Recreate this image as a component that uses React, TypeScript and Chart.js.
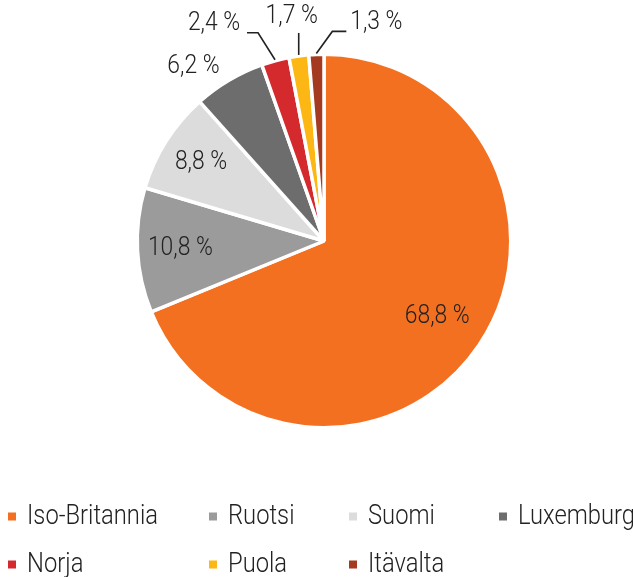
import React, { useEffect, useRef } from "react";
import { Chart, registerables } from "chart.js";

Chart.register(...registerables);

const categories = ["Iso-Britannia", "Ruotsi", "Suomi", "Luxemburg", "Norja", "Puola", "Itävalta"];
const shares = [68.8, 10.8, 8.8, 6.2, 2.4, 1.7, 1.3];
const colors = ["#F37021", "#9B9B9B", "#DCDCDC", "#6D6D6D", "#D42A2E", "#FDB714", "#A43A20"];

const FONT = "Roboto, 'Noto Sans', sans-serif";
const TEXT = "#222222";
const SQUEEZE = 0.88;

const fmt = (v: number) => v.toFixed(1).replace(".", ",") + " %";

// label placement styles (per slice index)
const insideFactor: Record<number, number> = { 0: 0.73, 1: 0.77, 2: 0.78 };
const outsideStyle: Record<number, { label: [number, number]; path: [number, number][] }> = {
  3: { label: [-35, -13], path: [] },
  4: { label: [-61, -36], path: [[-17, -27], [-28, -27]] },
  5: { label: [-7, -38], path: [[0, -22]] },
  6: { label: [60, -31], path: [[16, -22], [30, -22]] },
};

const legendCols = [8, 209, 349, 499];
const legendRows = [524, 572];

function narrowText(ctx: CanvasRenderingContext2D, text: string, x: number, y: number) {
  ctx.save();
  ctx.translate(x, y);
  ctx.scale(SQUEEZE, 1);
  ctx.fillText(text, 0, 0);
  ctx.restore();
}

const labelPlugin = {
  id: "sliceLabels",
  afterDatasetsDraw(chart: any) {
    const ctx = chart.ctx;
    const meta = chart.getDatasetMeta(0);
    ctx.save();
    ctx.font = `300 26px ${FONT}`;
    ctx.fillStyle = TEXT;
    ctx.strokeStyle = TEXT;
    ctx.lineWidth = 1.6;
    ctx.textAlign = "center";
    ctx.textBaseline = "middle";
    meta.data.forEach((arc: any, i: number) => {
      const { x, y, startAngle, endAngle, outerRadius } = arc.getProps(
        ["x", "y", "startAngle", "endAngle", "outerRadius"],
        true
      );
      const mid = (startAngle + endAngle) / 2;
      const c = Math.cos(mid);
      const s = Math.sin(mid);
      const text = fmt(shares[i]);
      if (insideFactor[i] !== undefined) {
        const f = insideFactor[i];
        narrowText(ctx, text, x + c * outerRadius * f, y + s * outerRadius * f);
      } else {
        const st = outsideStyle[i];
        const px = x + c * (outerRadius + 1);
        const py = y + s * (outerRadius + 1);
        if (st.path.length) {
          ctx.beginPath();
          ctx.moveTo(px, py);
          st.path.forEach(([dx, dy]) => ctx.lineTo(px + dx, py + dy));
          ctx.stroke();
        }
        narrowText(ctx, text, px + st.label[0], py + st.label[1]);
      }
    });
    ctx.restore();
  },
  afterDraw(chart: any) {
    const ctx = chart.ctx;
    ctx.save();
    ctx.font = `300 27px ${FONT}`;
    ctx.textAlign = "left";
    ctx.textBaseline = "alphabetic";
    categories.forEach((name, i) => {
      const col = i < 4 ? i : i - 4;
      const row = i < 4 ? 0 : 1;
      const lx = legendCols[col];
      const ly = legendRows[row];
      ctx.fillStyle = colors[i];
      ctx.fillRect(lx, ly - 11.5, 8, 8);
      ctx.fillStyle = TEXT;
      narrowText(ctx, name, lx + 19, ly);
    });
    ctx.restore();
  },
};

export default function App() {
  const ref = useRef<HTMLCanvasElement | null>(null);
  useEffect(() => {
    if (!ref.current) return;
    const chart = new Chart(ref.current, {
      type: "pie",
      data: {
        labels: categories,
        datasets: [
          {
            data: shares,
            backgroundColor: colors,
            borderColor: "#ffffff",
            borderWidth: 3.5,
          },
        ],
      },
      options: {
        responsive: false,
        animation: false,
        devicePixelRatio: 1,
        layout: { padding: { left: 135.5, top: 52.5, right: 120.5, bottom: 147.5 } },
        plugins: {
          legend: { display: false },
          tooltip: { enabled: false },
        },
      },
      plugins: [labelPlugin],
    });
    return () => chart.destroy();
  }, []);
  return (
    <div style={{ position: "fixed", left: 0, top: 0, width: 633, height: 577, background: "#fff" }}>
      <canvas ref={ref} width={633} height={577} style={{ width: 633, height: 577, display: "block" }} />
    </div>
  );
}
